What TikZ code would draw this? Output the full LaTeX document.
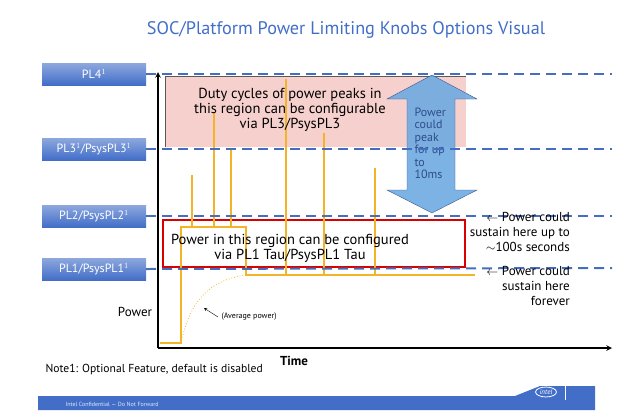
\documentclass[tikz,border=0pt]{standalone}
\usepackage{fontspec}
\setmainfont{PT Sans}
\usetikzlibrary{arrows,shapes,positioning}
\definecolor{plblue}{RGB}{66,110,200}
\definecolor{dashblue}{RGB}{70,110,190}
\definecolor{wave}{RGB}{245,180,40}
\definecolor{pinkreg}{RGB}{244,200,196}
\definecolor{arrblue}{RGB}{110,170,225}
\begin{document}
\begin{tikzpicture}[x=1pt,y=-1pt,>=stealth]
  \tikzstyle{level}=[rectangle,minimum width=104pt,minimum height=22pt,inner sep=0pt,
    top color=plblue!60,bottom color=plblue,text=white,font=\fontsize{12}{13}\selectfont]
  \tikzstyle{limit}=[dashblue,dash pattern=on 10pt off 6pt,line width=2pt]
  \tikzstyle{pulse}=[wave,line width=1.3pt]
  \tikzstyle{body}=[align=center,font=\fontsize{14.5}{15}\selectfont]
  \tikzstyle{side}=[inner sep=0pt,font=\fontsize{13}{15}\selectfont]
  \useasboundingbox (0,0) rectangle (640,416);

  \node[text=plblue,font=\fontsize{18.2}{22}\selectfont] (title) at (346,30) {SOC/Platform Power Limiting Knobs Options Visual};

  % power limit levels
  \node[level] (pl4) at (94,74) {PL4$^1$};
  \node[level] (pl3) at (94,149) {PL3$^1$/PsysPL3$^1$};
  \node[level] (pl2) at (94,216) {PL2/PsysPL2$^1$};
  \node[level] (pl1) at (94,269) {PL1/PsysPL1$^1$};
  \foreach \name/\y in {pl4/74, pl3/149, pl2/216, pl1/268}
    \coordinate (\name-end) at (612,\y);

  % regions
  \fill[pinkreg,opacity=.85] (165,76) rectangle (466,147);
  \draw[gray!70!black,thick] (466,76) -- (165,76) -- (165,147);
  \node[draw=red!85!black,line width=2pt,minimum width=302pt,minimum height=47pt,inner sep=0pt] (pl1box) at (314,243) {};

  % peak arrow
  \fill[arrblue,opacity=.9,draw=plblue!70!black] (432,75) -- (477,99) -- (455,99) -- (455,190) -- (477,190)
     -- (432,213) -- (387,190) -- (407,190) -- (407,99) -- (387,99) -- cycle;
  \node[text=plblue!70!black,align=left,font=\fontsize{12}{12.5}\selectfont,anchor=north west] (peaktxt) at (411,104) {Power\\could\\peak\\for up\\to\\10ms};

  % waveform
  \draw[pulse] (160,343) -- (181,343) -- (181,227) -- (246,227) -- (246,275) -- (475,275);
  \foreach \x/\t/\b in {192/175/227, 214/112/227, 231/148/227, 286/79/275, 324/133/275, 375/168/275}
    \draw[pulse] (\x,\t) -- (\x,\b);
  \draw[wave,thick,dotted] (181,343) .. controls (190,300) and (210,280) .. (246,275);
  \node[font=\fontsize{8}{9}\selectfont,anchor=west] (avg) at (218,317) {(Average power)};
  \draw[->] (avg.west) -- ++(-14,-9);

  \node[body] (dutytxt) at (290,110) {Duty cycles of power peaks in\\this region can be configurable\\via PL3/PsysPL3};
  \node[body] (tautxt) at (290,248) {Power in this region can be configured\\via PL1 Tau/PsysPL1 Tau};

  % dashed limits drawn over regions
  \foreach \name in {pl4,pl3,pl2,pl1}
    \draw[limit] (pl4.east |- \name) -- (\name-end);

  % axes
  \coordinate (origin) at (158,348);
  \coordinate (ytop) at (158,72);
  \coordinate (xend) at (612,348);
  \draw[line width=1.5pt,->] (origin) -- (ytop);
  \draw[line width=1.5pt,->] (origin) -- (xend);
  \node[font=\fontsize{13}{14}\selectfont] (powerlbl) at (135,312) {Power};
  \node[font=\fontsize{13}{14}\selectfont\bfseries] (timelbl) at (294,361) {Time};

  \node[side,align=right,anchor=north east] (sustain1) at (570,212) {$\leftarrow$ Power could\\sustain here up to\\${\sim}$100s seconds};
  \node[side,align=right,anchor=north east] (sustain2) at (570,266) {$\leftarrow$ Power could\\sustain here\\forever};

  \node[font=\fontsize{11.6}{12}\selectfont,anchor=west] (note) at (42,370) {Note1: Optional Feature, default is disabled};

  % footer
  \fill[plblue] (38,396) -- (515,396) -- (540,386) -- (595,386) -- (595,410) -- (38,410) -- cycle;
  \node[text=white!85!plblue,font=\fontsize{6}{7}\selectfont,anchor=west] (conf) at (62,404) {Intel Confidential — Do Not Forward};
  \node[draw=white,ellipse,thick,text=white,inner sep=1pt,font=\fontsize{7}{8}\selectfont\itshape] (logo) at (546,392) {intel};
  \draw[white,thick] (565,385) -- (565,400);
\end{tikzpicture}
\end{document}
